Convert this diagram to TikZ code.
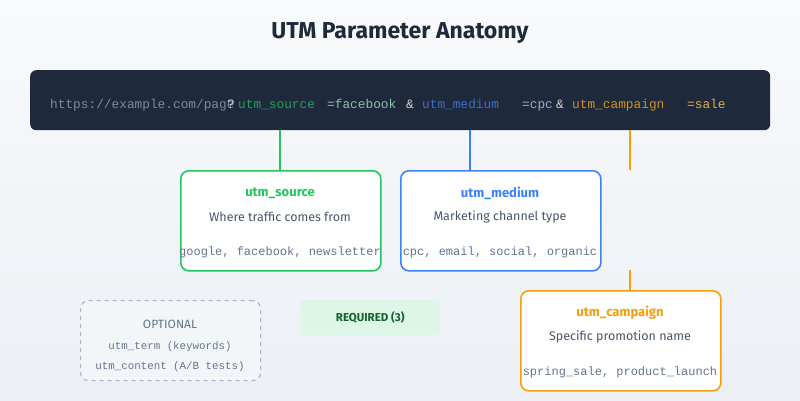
\documentclass[tikz,border=0pt]{standalone}
\usepackage{fontspec}
\setmainfont{Fira Sans}
\newfontfamily\mono{Liberation Mono}
\begin{document}
\begin{tikzpicture}[x=1pt,y=-1pt,
 url/.style={anchor=base west,inner sep=0pt,font=\mono\fontsize{12.8}{13}\selectfont},
 card/.style={draw,line width=1.6pt,fill=white,rounded corners=8pt,minimum width=200pt,minimum height=100pt,anchor=north west},
 ttl/.style={font=\bfseries\fontsize{13}{15}\selectfont},
 desc/.style={font=\fontsize{12.5}{14}\selectfont,text=slate},
 ex/.style={font=\mono\fontsize{12}{13}\selectfont,text=gray2},
 conn/.style={line width=1.6pt}]
\definecolor{bg1}{HTML}{F8FAFC}\definecolor{bg2}{HTML}{ECEFF4}
\definecolor{dark}{HTML}{1E293B}
\definecolor{green}{HTML}{22C55E}\definecolor{blue}{HTML}{3B82F6}\definecolor{orange}{HTML}{F59E0B}
\definecolor{ugreen}{HTML}{22A355}\definecolor{ublue}{HTML}{3B6FD0}\definecolor{uorange}{HTML}{D4921A}
\definecolor{slate}{HTML}{475569}\definecolor{gray2}{HTML}{64748B}\definecolor{lgray}{HTML}{94A3B8}
\shade[top color=bg1,bottom color=bg2] (0,0) rectangle (800,400);
\useasboundingbox (0,0) rectangle (800,400);
\node[font=\bfseries\fontsize{23}{26}\selectfont,text=dark] (title) at (400,33) {UTM Parameter Anatomy};
\node[fill=dark,rounded corners=6pt,minimum width=740pt,minimum height=60pt,anchor=north west,inner sep=0pt] (bar) at (30,70) {};
\node[url,text=lgray!80!dark] (u0) at (50,108) {https://example.com/page};
\node[url,text=white!85!dark] (q) at (227,108) {?};
\node[url,text=ugreen] (us) at (238,108) {utm\_source};
\node[url,text=green!40!white!80!dark] (fb) at (327,108) {=facebook};
\node[url,text=white!80!dark] (a1) at (406,108) {\&};
\node[url,text=ublue] (um) at (422,108) {utm\_medium};
\node[url,text=blue!40!white!80!dark] (cpc) at (522,108) {=cpc};
\node[url,text=white!80!dark] (a2) at (556,108) {\&};
\node[url,text=uorange] (uc) at (572,108) {utm\_campaign};
\node[url,text=orange!70!white!90!dark] (sale) at (687,108) {=sale};
\coordinate (cs) at (280,130); \coordinate (cm) at (470,130); \coordinate (cc) at (630,130);
\coordinate (cc2) at (630,170); \coordinate (cc3) at (630,270);
\node[card,draw=green] (src) at (180,170) {};
\node[card,draw=blue] (med) at (400,170) {};
\node[card,draw=orange] (cmp) at (520,290) {};
\draw[conn,green] (cs) -- (cs |- src.north);
\draw[conn,blue] (cm) -- (cm |- med.north);
\draw[conn,orange] (cc) -- (cc2);
\draw[conn,orange] (cc3) -- (cmp.north -| cc3);
\node[ttl,text=green] at (280,193) {utm\_source};
\node[desc] at (280,217) {Where traffic comes from};
\node[ex] at (280,252) {google, facebook, newsletter};
\node[ttl,text=blue] at (500,193) {utm\_medium};
\node[desc] at (500,217) {Marketing channel type};
\node[ex] at (500,252) {cpc, email, social, organic};
\node[ttl,text=orange] at (620,313) {utm\_campaign};
\node[desc] at (620,337) {Specific promotion name};
\node[ex] at (620,372) {spring\_sale, product\_launch};
\node[draw=lgray!80,line width=1.2pt,dash pattern=on 4pt off 4pt,fill=bg1!60!bg2,rounded corners=8pt,minimum width=180pt,minimum height=80pt,anchor=north west] (opt) at (80,300) {};
\node[font=\fontsize{12}{13}\selectfont,text=gray2] at (170,324) {OPTIONAL};
\node[ex,font=\mono\fontsize{10.8}{12}\selectfont] at (170,347) {utm\_term (keywords)};
\node[ex,font=\mono\fontsize{10.8}{12}\selectfont] at (170,367) {utm\_content (A/B tests)};
\node[fill=green!15,rounded corners=5pt,minimum width=140pt,minimum height=35pt,anchor=north west,inner sep=0pt] (req) at (300,300) {};
\node[font=\fontsize{11.5}{13}\selectfont\fontseries{sb}\selectfont,text=green!50!black] at (req.center) {REQUIRED (3)};
\end{tikzpicture}
\end{document}
